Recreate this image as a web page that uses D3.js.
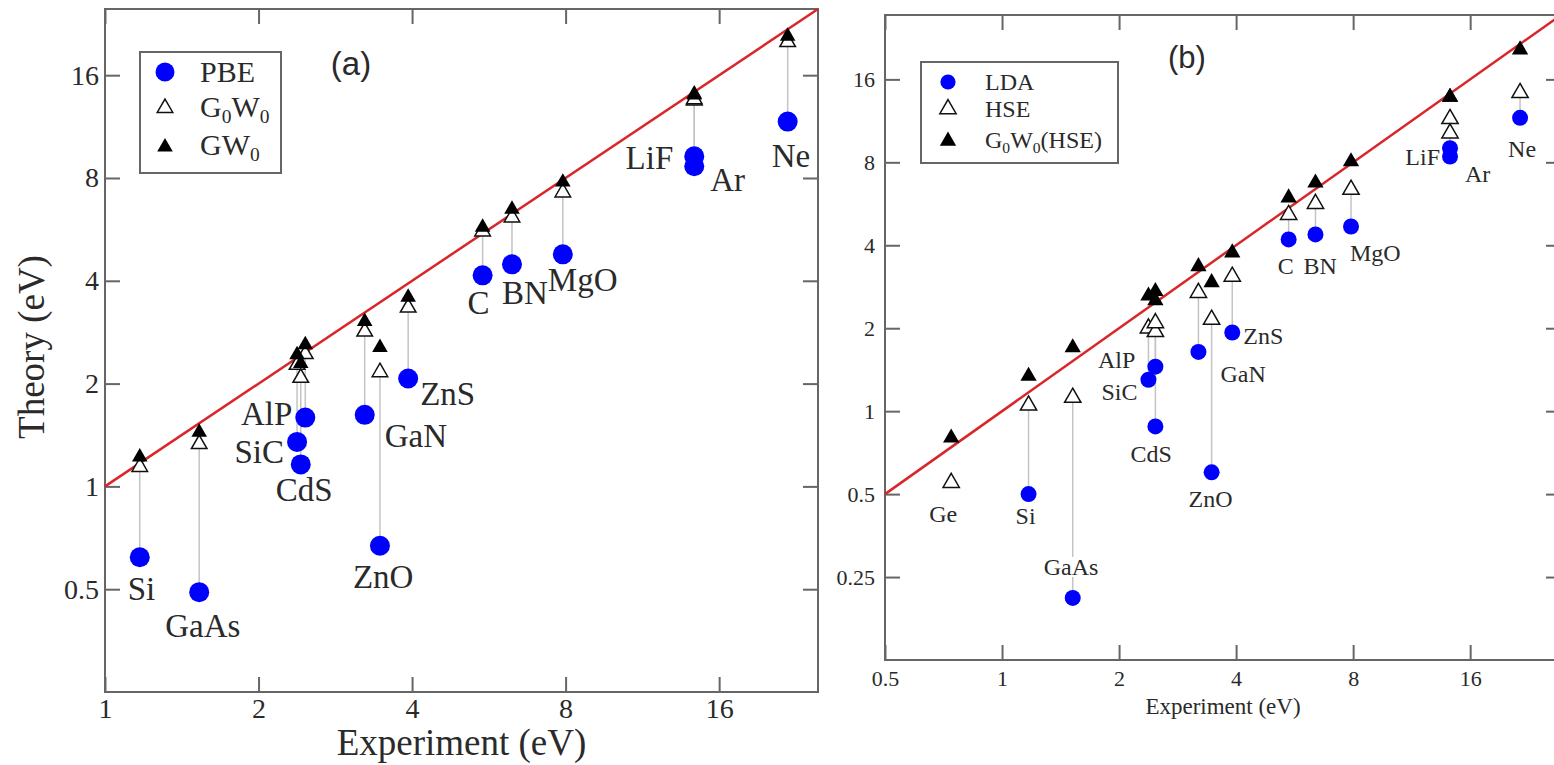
<!DOCTYPE html>
<head>
  <meta charset="utf-8">
  <script src="https://d3js.org/d3.v7.min.js"></script>
  <style>
    body { margin:0; background:#fff; }
    text { font-family: "Liberation Serif", "DejaVu Serif", serif; fill:#2a2a2a; }
    .tag { font-family: "Liberation Sans", Arial, sans-serif; }
  </style>
</head>

<body>
  <script>
    // panel (a): PBE / G0W0 / GW0 against experiment
    var materialsA = ["Si","GaAs","SiC","CdS","AlP","GaN","ZnO","ZnS","C","BN","MgO","LiF","Ar","Ne"];
    var expA  = [1.17, 1.53, 2.38, 2.42, 2.47, 3.23, 3.46, 3.93, 5.5, 6.28, 7.9, 14.3, 14.3, 21.8];
    var pbeA  = [0.62, 0.49, 1.35, 1.16, 1.59, 1.62, 0.67, 2.07, 4.15, 4.47, 4.78, 9.26, 8.66, 11.7];
    var g0w0A = [1.14, 1.33, 2.27, 2.08, 2.44, 2.84, 2.16, 3.34, 5.58, 6.13, 7.26, 13.5, 13.6, 20.0];
    var gw0A  = [1.22, 1.44, 2.43, 2.29, 2.60, 3.04, 2.55, 3.58, 5.74, 6.48, 7.78, 14.1, 14.0, 20.8];

    // panel (b): LDA / HSE / G0W0(HSE) against experiment
    var materialsB = ["Ge","Si","GaAs","SiC","CdS","AlP","GaN","ZnO","ZnS","C","BN","MgO","LiF","Ar","Ne"];
    var expB  = [0.74, 1.17, 1.52, 2.38, 2.48, 2.48, 3.2, 3.46, 3.91, 5.46, 6.4, 7.9, 14.2, 14.2, 21.5];
    var ldaB  = [null, 0.50, 0.21, 1.30, 0.88, 1.45, 1.64, 0.60, 1.93, 4.2, 4.38, 4.68, 9.0, 8.4, 11.6];
    var hseB  = [0.55, 1.05, 1.12, 2.0, 1.94, 2.09, 2.69, 2.15, 3.08, 5.16, 5.66, 6.37, 11.5, 10.2, 14.3];
    var gwB   = [0.80, 1.34, 1.70, 2.62, 2.52, 2.72, 3.35, 2.93, 3.76, 5.95, 6.74, 8.05, 13.8, 13.8, 20.5];

    var xTicksA = [1, 2, 4, 8, 16], yTicksA = [0.5, 1, 2, 4, 8, 16];
    var xTicksB = [0.5, 1, 2, 4, 8, 16], yTicksB = [0.25, 0.5, 1, 2, 4, 8, 16];

    // label placement, offsets from the lowest marker of each material
    var labelA = {
      Si:[-12,43,"start"], GaAs:[-34,45,"start"], AlP:[-13,7,"end"], SiC:[-13,21,"end"],
      CdS:[-25,37,"start"], GaN:[20,32,"start"], ZnO:[-27,42,"start"], ZnS:[12,27,"start"],
      C:[-15,39,"start"], BN:[-10,40,"start"], MgO:[-15,37,"start"], LiF:[-21,13,"end"],
      Ar:[16,25,"start"], Ne:[-16,45,"start"]
    };
    var labelB = {
      Ge:[-22,39,"start"], Si:[-13,30,"start"], GaAs:[-29,-23,"start"], AlP:[-20,1,"end"],
      SiC:[-11,20,"end"], CdS:[-25,36,"start"], GaN:[22,30,"start"], ZnO:[-23,35,"start"],
      ZnS:[11,12,"start"], C:[-11,35,"start"], BN:[-12,40,"start"], MgO:[-1,35,"start"],
      LiF:[-10,17,"end"], Ar:[15,26,"start"], Ne:[-12,39,"start"]
    };

    var svg = d3.select("body").append("svg")
      .attr("width", 1554)
      .attr("height", 765)

    var frameColor = "#666";

    function panel(c) {
      var g = svg.append("g");
      var x = d3.scaleLog().base(2).domain(c.xDomain).range([c.left, c.right]);
      var y = d3.scaleLog().base(2).domain(c.yDomain).range([c.bottom, c.top]);
      var fmt = function(d) { return String(d); };

      // axes, ticks pointing inwards on all four sides
      var axes = [
        [d3.axisBottom(x).tickValues(c.xTicks).tickFormat(fmt), "translate(0," + c.bottom + ")"],
        [d3.axisTop(x).tickValues(c.xTicks).tickFormat(""), "translate(0," + c.top + ")"],
        [d3.axisLeft(y).tickValues(c.yTicks).tickFormat(fmt), "translate(" + c.left + ",0)"],
        [d3.axisRight(y).tickValues(c.yTicks).tickFormat(""), "translate(" + c.right + ",0)"]
      ];
      axes.forEach(function(a) {
        var ax = g.append("g").attr("transform", a[1])
          .call(a[0].tickSize(-c.tick).tickPadding(c.pad));
        ax.select(".domain").remove();
        ax.selectAll("line").attr("stroke", frameColor).attr("stroke-width", 2);
        ax.selectAll("text").attr("font-size", c.tickFont)
          .attr("font-family", "Liberation Serif").attr("fill", "#2a2a2a");
        ax.selectAll("text").filter(function() { return this.textContent === ""; }).remove();
      });

      g.append("rect")
        .attr("x", c.left).attr("y", c.top)
        .attr("width", c.right - c.left).attr("height", c.bottom - c.top)
        .attr("fill", "none").attr("stroke", frameColor).attr("stroke-width", 2);

      // y = x
      var lo = Math.max(c.xDomain[0], c.yDomain[0]), hi = Math.min(c.xDomain[1], c.yDomain[1]);
      g.append("path")
        .datum([lo, hi])
        .attr("d", d3.line().x(function(d) { return x(d); }).y(function(d) { return y(d); }))
        .attr("stroke", "#d8262b").attr("stroke-width", 2.5).attr("fill", "none");

      var rows = c.names.map(function(n, i) {
        return { name: n, e: c.exp[i], low: c.low[i], mid: c.mid[i], high: c.high[i] };
      });

      // grey connectors
      g.selectAll(".conn").data(rows.filter(function(d) { return d.low != null; })).enter()
        .append("line")
        .attr("x1", function(d) { return x(d.e); }).attr("x2", function(d) { return x(d.e); })
        .attr("y1", function(d) { return y(d.low); }).attr("y2", function(d) { return y(d.mid); })
        .attr("stroke", "#c4c4c4").attr("stroke-width", 1.5);

      // material labels
      var lab = g.selectAll(".lab").data(rows).enter().append("g");
      lab.append("text")
        .attr("x", function(d) { return x(d.e) + c.labels[d.name][0]; })
        .attr("y", function(d) { return y(d.low != null ? d.low : d.mid) + c.labels[d.name][1]; })
        .attr("text-anchor", function(d) { return c.labels[d.name][2]; })
        .attr("font-size", c.labelFont)
        .text(function(d) { return d.name; })
        .each(function() {
          var b = this.getBBox();
          d3.select(this.parentNode).insert("rect", "text")
            .attr("x", b.x).attr("y", b.y + 3).attr("width", b.width).attr("height", b.height - 6)
            .attr("fill", "#fff");
        });

      var tri = d3.symbol().type(d3.symbolTriangle).size(c.triSize);

      g.selectAll(".low").data(rows.filter(function(d) { return d.low != null; })).enter()
        .append("circle")
        .attr("cx", function(d) { return x(d.e); }).attr("cy", function(d) { return y(d.low); })
        .attr("r", c.r).attr("fill", "#0000ff");

      g.selectAll(".mid").data(rows).enter().append("path")
        .attr("d", tri)
        .attr("transform", function(d) { return "translate(" + x(d.e) + "," + y(d.mid) + ")"; })
        .attr("fill", "#fff").attr("stroke", "#111").attr("stroke-width", 1.5);

      g.selectAll(".high").data(rows).enter().append("path")
        .attr("d", tri)
        .attr("transform", function(d) { return "translate(" + x(d.e) + "," + y(d.high) + ")"; })
        .attr("fill", "#000");

      // legend
      var L = c.legend;
      g.append("rect").attr("x", L.x).attr("y", L.y).attr("width", L.w).attr("height", L.h)
        .attr("fill", "#fff").attr("stroke", frameColor).attr("stroke-width", 2);
      g.append("circle").attr("cx", L.sx).attr("cy", L.rows[0]).attr("r", c.r * 0.95).attr("fill", "#0000ff");
      g.append("path").attr("d", tri).attr("transform", "translate(" + L.sx + "," + L.rows[1] + ")")
        .attr("fill", "#fff").attr("stroke", "#111").attr("stroke-width", 1.5);
      g.append("path").attr("d", tri).attr("transform", "translate(" + L.sx + "," + L.rows[2] + ")")
        .attr("fill", "#000");
      L.texts.forEach(function(parts, i) {
        var t = g.append("text").attr("x", L.tx).attr("y", L.base[i]).attr("font-size", c.legendFont);
        var shifted = false;
        parts.forEach(function(p) {
          if (p.sub) {
            t.append("tspan").attr("font-size", c.legendFont * 0.65).attr("dy", L.subDy).text(p.sub);
            shifted = true;
          } else {
            t.append("tspan").attr("dy", shifted ? -L.subDy : 0).text(p.t);
            shifted = false;
          }
        });
      });

      g.append("text").attr("class", "tag")
        .attr("x", c.tag.x).attr("y", c.tag.y).attr("text-anchor", "middle")
        .attr("font-size", c.tag.size).text(c.tag.text);

      g.append("text")
        .attr("x", (c.left + c.right) / 2).attr("y", c.xLabelY)
        .attr("text-anchor", "middle").attr("font-size", c.axisFont)
        .text("Experiment (eV)");

      if (c.yLabel) {
        g.append("text")
          .attr("transform", "translate(" + c.yLabel.x + "," + c.yLabel.y + ") rotate(-90)")
          .attr("text-anchor", "middle").attr("font-size", c.axisFont)
          .text("Theory (eV)");
      }
    }

    panel({
      left: 105, right: 818, top: 9, bottom: 692,
      xDomain: [1, 25], yDomain: [0.25, 25],
      xTicks: xTicksA, yTicks: yTicksA,
      tick: 15, pad: 6, tickFont: 28, labelFont: 33, legendFont: 30, axisFont: 37,
      r: 10, triSize: 105,
      names: materialsA, exp: expA, low: pbeA, mid: g0w0A, high: gw0A,
      labels: labelA,
      legend: { x: 140, y: 52, w: 141, h: 121, sx: 165, rows: [72, 108, 147], tx: 200,
                base: [82, 117, 155], subDy: 6,
                texts: [[{t:"PBE"}], [{t:"G"},{sub:"0"},{t:"W"},{sub:"0"}], [{t:"GW"},{sub:"0"}]] },
      tag: { x: 351, y: 75, size: 33, text: "(a)" },
      xLabelY: 755,
      yLabel: { x: 44, y: 347 }
    });

    panel({
      left: 885, right: 1561, top: 15, bottom: 660,
      xDomain: [0.5, 27.4], yDomain: [0.125, 27.4],
      xTicks: xTicksB, yTicks: yTicksB,
      tick: 15, pad: 10, tickFont: 22, labelFont: 24, legendFont: 24, axisFont: 23,
      r: 8, triSize: 115,
      names: materialsB, exp: expB, low: ldaB, mid: hseB, high: gwB,
      labels: labelB,
      legend: { x: 921, y: 62, w: 197, h: 101, sx: 948, rows: [82, 109, 141], tx: 985,
                base: [90, 117, 148], subDy: 5,
                texts: [[{t:"LDA"}], [{t:"HSE"}], [{t:"G"},{sub:"0"},{t:"W"},{sub:"0"},{t:"(HSE)"}]] },
      tag: { x: 1187, y: 68, size: 31, text: "(b)" },
      xLabelY: 714
    });
  </script>
</body>
